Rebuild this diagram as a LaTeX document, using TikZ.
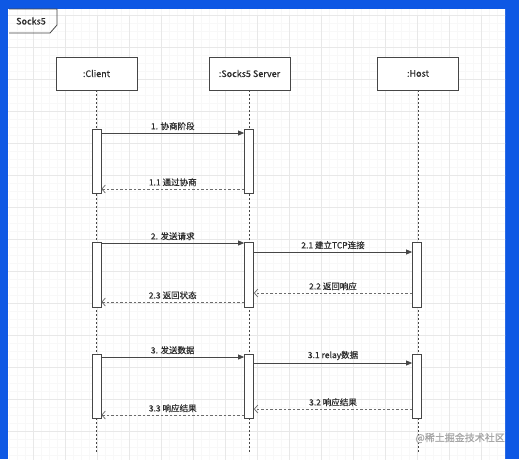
\documentclass[tikz,border=0pt]{standalone}
\usepackage{fontspec}
\setmainfont{Noto Sans CJK SC}[FakeBold=0.4]
\usetikzlibrary{arrows.meta,calc}
\definecolor{frameblue}{RGB}{14,88,228}
\definecolor{gridmaj}{RGB}{232,232,232}
\definecolor{gridmin}{RGB}{248,248,248}
\definecolor{ink}{RGB}{70,70,70}
\definecolor{txt}{RGB}{45,45,45}
\begin{document}
\begin{tikzpicture}[x=1pt,y=-1pt,
  actor/.style={draw=ink, line width=0.8pt, fill=white, minimum width=81pt, minimum height=33pt, inner sep=0pt, font=\fontsize{9}{11}\selectfont, text=txt},
  life/.style={draw=ink, line width=0.8pt, dash pattern=on 2pt off 2pt},
  bar/.style={draw=ink, line width=0.8pt, fill=white, minimum width=9pt, inner sep=0pt},
  msg/.style={draw=ink, line width=0.8pt, -{Triangle[length=6pt,width=5pt]}},
  ret/.style={draw=ink!80, line width=0.7pt, dash pattern=on 2.5pt off 2pt, -{Straight Barb[length=3.5pt,width=8pt]}},
  lbl/.style={font=\fontsize{8.5}{10}\selectfont, text=txt, inner sep=1pt, above=1.5pt}]
\useasboundingbox (0,0) rectangle (519,459);
% blue frame
\fill[frameblue] (0,0) rectangle (519,459);
\fill[white] (8,9) rectangle (505,459);
% grid
\begin{scope}
\clip (8,9) rectangle (505,459);
\draw[gridmin, line width=0.4pt, xshift=1pt, yshift=1pt] (0,0) grid[step=8pt] (519,470);
\draw[gridmaj, line width=0.5pt, xshift=1pt, yshift=-15pt] (0,0) grid[step=32pt] (540,480);
\end{scope}
% frame tab
\node[font=\fontsize{9}{11}\selectfont, text=txt] (title) at (31,21) {Socks5};
\draw[ink, line width=0.8pt] (9,9) -- (57,9) -- (57,25) -- (50,33) -- (9,33);
% actors
\node[actor] (client) at (96.5,73.5) {:Client};
\node[actor] (server) at (249.5,73.5) {:Socks5 Server};
\node[actor] (host) at (418,73.5) {:Host};
\coordinate (bottom) at (0,452);
% lifelines
\draw[life] (client.south) -- (client.south |- bottom);
\draw[life] (server.south) -- (server.south |- bottom);
\draw[life] (host.south) -- (host.south |- bottom);
% activation bars
\node[bar, minimum height=64pt] (cb1) at (96.5,161) {};
\node[bar, minimum height=64pt] (sb1) at (249,161) {};
\node[bar, minimum height=65pt] (cb2) at (96.5,274.5) {};
\node[bar, minimum height=65pt] (sb2) at (249,274.5) {};
\node[bar, minimum height=65pt] (hb2) at (417,274.5) {};
\node[bar, minimum height=64pt] (cb3) at (96.5,386) {};
\node[bar, minimum height=64pt] (sb3) at (249,386) {};
\node[bar, minimum height=64pt] (hb3) at (417,386) {};
% section 1
\draw[msg] (cb1.east |- 0,133) -- node[lbl] {1. 协商阶段} (sb1.west |- 0,133);
\draw[ret] (sb1.west |- 0,189) -- node[lbl] {1.1 通过协商} (cb1.east |- 0,189);
% section 2
\draw[msg] (cb2.east |- 0,243) -- node[lbl] {2. 发送请求} (sb2.west |- 0,243);
\draw[msg] (sb2.east |- 0,252) -- node[lbl] {2.1 建立TCP连接} (hb2.west |- 0,252);
\draw[ret] (hb2.west |- 0,293) -- node[lbl] {2.2 返回响应} (sb2.east |- 0,293);
\draw[ret] (sb2.west |- 0,302) -- node[lbl] {2.3 返回状态} (cb2.east |- 0,302);
% section 3
\draw[msg] (cb3.east |- 0,357) -- node[lbl] {3. 发送数据} (sb3.west |- 0,357);
\draw[msg] (sb3.east |- 0,363) -- node[lbl] {3.1 relay数据} (hb3.west |- 0,363);
\draw[ret] (hb3.west |- 0,409) -- node[lbl] {3.2 响应结果} (sb3.east |- 0,409);
\draw[ret] (sb3.west |- 0,415) -- node[lbl] {3.3 响应结果} (cb3.east |- 0,415);
% watermark
\node[anchor=east, font=\fontsize{10}{12}\selectfont, text=gray!70, inner sep=0pt] (wm) at (505,438) {@稀土掘金技术社区};
\end{tikzpicture}
\end{document}
